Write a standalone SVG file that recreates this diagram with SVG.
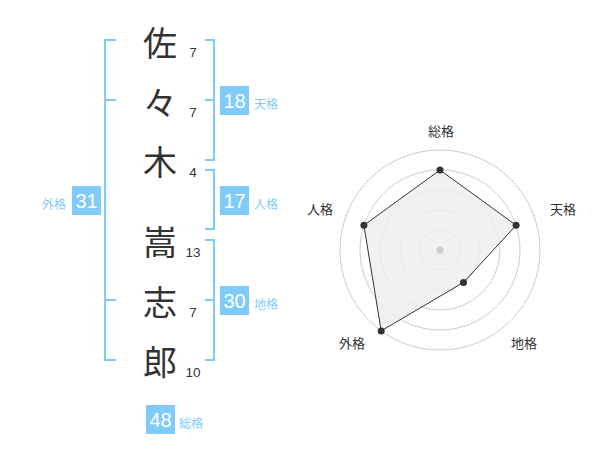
<svg xmlns="http://www.w3.org/2000/svg" width="600" height="470" viewBox="0 0 600 470">
<style>
.kanji{font-family:"Noto Sans CJK JP","Noto Sans CJK SC",sans-serif;font-size:34px;fill:#333;text-anchor:middle;dominant-baseline:central}
.num{font-family:"Liberation Sans",Arial,sans-serif;font-size:13.5px;fill:#333;text-anchor:middle}
.br{fill:none;stroke:#80cbfb;stroke-width:2}
.box{fill:#80cbfb}
.bnum{font-family:"Liberation Sans",Arial,sans-serif;font-size:20px;fill:#fff;text-anchor:middle}
.lab{font-family:"Noto Sans CJK JP",sans-serif;font-size:12px;fill:#80cbfb}
.rlab{font-family:"Noto Sans CJK JP",sans-serif;font-size:13px;fill:#333;text-anchor:middle;dominant-baseline:central}
.ring{fill:none;stroke:#cccccc;stroke-width:1}
.pt{fill:#333}
</style>
<rect width="600" height="470" fill="#fff"/>
<g id="name">
<g id="c1"><text class="kanji" x="160" y="41">佐</text><text class="num" x="193" y="57">7</text></g>
<g id="c2"><text class="kanji" x="160" y="101">々</text><text class="num" x="193" y="117">7</text></g>
<g id="c3"><text class="kanji" x="160" y="160">木</text><text class="num" x="193" y="177">4</text></g>
<g id="c4"><text class="kanji" x="160" y="240">嵩</text><text class="num" x="193" y="257">13</text></g>
<g id="c5"><text class="kanji" x="160" y="300">志</text><text class="num" x="193" y="317">7</text></g>
<g id="c6"><text class="kanji" x="160" y="360">郎</text><text class="num" x="193" y="377">10</text></g>
</g>
<g id="connectors">
<path class="br" d="M116,40 H105 V360 H116 M105,100 H116 M105,300 H116"/>
<path class="br" d="M205,40 H214 V160 H205 M214,100 H205"/>
<path class="br" d="M205,170 H214 V229 H205"/>
<path class="br" d="M205,240 H214 V360 H205 M214,300 H205"/>
</g>
<g id="tenkaku"><rect class="box" x="220" y="86" width="29" height="29"/><text class="bnum" x="234.5" y="108">18</text><text class="lab" x="254" y="108.5">天格</text></g>
<g id="jinkaku"><rect class="box" x="220" y="186" width="29" height="29"/><text class="bnum" x="234.5" y="208">17</text><text class="lab" x="254" y="208.5">人格</text></g>
<g id="chikaku"><rect class="box" x="220" y="286" width="29" height="29"/><text class="bnum" x="234.5" y="308">30</text><text class="lab" x="254" y="308.5">地格</text></g>
<g id="gaikaku"><rect class="box" x="72" y="186" width="29" height="29"/><text class="bnum" x="86.5" y="208">31</text><text class="lab" x="42" y="208.5">外格</text></g>
<g id="soukaku"><rect class="box" x="146" y="405" width="29" height="29"/><text class="bnum" x="160.5" y="427">48</text><text class="lab" x="179" y="427.5">総格</text></g>
<g id="radar">
<circle class="ring" cx="440" cy="250" r="20"/>
<circle class="ring" cx="440" cy="250" r="40"/>
<circle class="ring" cx="440" cy="250" r="60"/>
<circle class="ring" cx="440" cy="250" r="80"/>
<circle class="ring" cx="440" cy="250" r="100"/>
<polygon points="440,170 516.1,225.3 463.5,282.4 381.2,330.9 363.9,225.3" fill="#eeeeee" fill-opacity="0.8" stroke="#333" stroke-width="1"/>
<circle cx="440" cy="250" r="3.5" fill="#cccccc"/>
<circle class="pt" cx="440" cy="170" r="3.5"/>
<circle class="pt" cx="516.1" cy="225.3" r="3.5"/>
<circle class="pt" cx="463.5" cy="282.4" r="3.5"/>
<circle class="pt" cx="381.2" cy="330.9" r="3.5"/>
<circle class="pt" cx="363.9" cy="225.3" r="3.5"/>
<text class="rlab" x="441" y="130">総格</text>
<text class="rlab" x="563" y="208">天格</text>
<text class="rlab" x="524" y="342">地格</text>
<text class="rlab" x="352" y="342">外格</text>
<text class="rlab" x="320" y="208">人格</text>
</g>
</svg>
